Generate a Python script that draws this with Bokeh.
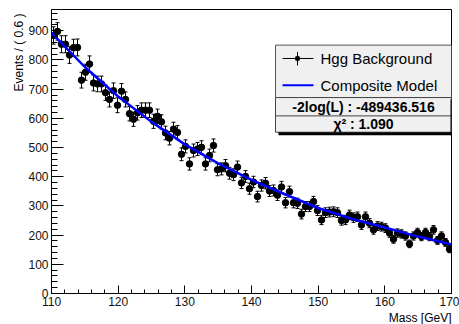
import numpy as np
from bokeh.plotting import figure
from bokeh.models import Range1d, SingleIntervalTicker, Label, BoxAnnotation, Title
from bokeh.embed import file_html
from bokeh.resources import INLINE

# ---------------- data ----------------
mass_lo, mass_hi, bin_width = 110.0, 170.0, 0.6
y_max = 973
events = [884, 898, 854, 854, 817, 842, 843, 731, 758, 786,
          721, 718, 718, 688, 665, 695, 645, 693, 665, 616,
          597, 619, 628, 628, 628, 590, 607, 588, 550, 532,
          563, 552, 477, 504, 444, 490, 495, 501, 444, 473,
          507, 424, 427, 438, 412, 407, 433, 379, 401, 359,
          382, 332, 370, 378, 351, 353, 337, 365, 311, 349,
          311, 309, 272, 298, 298, 315, 284, 252, 277, 279,
          280, 277, 250, 252, 269, 260, 263, 235, 263, 241,
          218, 231, 229, 224, 207, 186, 207, 204, 197, 170,
          197, 209, 195, 209, 195, 218, 182, 197, 175, 152]
model_mass = [110, 115, 120, 125, 130, 135, 140, 145, 150, 155, 160, 165, 170]
model_events = [893, 776, 675, 588, 511, 446, 389, 340, 293, 256, 226, 195, 168]
x_label = "Mass [GeV]"
y_label = "Events / ( 0.6 )"
legend_labels = ["Hgg Background", "Composite Model"]
stat_labels = ["-2log(L) : -489436.516", "\u03c7\u00b2 : 1.090"]

# ---------------- layout ----------------
W, H = 459, 324
FL, FR, FT, FB = 51, 451, 9, 296  # frame in pixels

def X(px):
    return mass_lo + (px - FL) * (mass_hi - mass_lo) / (FR - FL)

def Y(py):
    return (FB - py) * y_max / (FB - FT)

p = figure(width=W, height=H, x_range=Range1d(mass_lo, mass_hi), y_range=Range1d(0, y_max),
           output_backend="svg", toolbar_location=None,
           min_border_left=FL, min_border_right=W - FR, min_border_top=FT, min_border_bottom=H - FB)
p.background_fill_color = "white"
p.border_fill_color = "white"
p.outline_line_color = "black"
p.outline_line_width = 1
p.xgrid.visible = False
p.ygrid.visible = False

font = "Liberation Sans"
xa = p.xaxis[0]
xa.ticker = SingleIntervalTicker(interval=10, num_minor_ticks=5)
xa.major_tick_in = 8
xa.major_tick_out = 0
xa.minor_tick_in = 4
xa.minor_tick_out = 0
xa.axis_line_color = "black"
xa.major_tick_line_color = "black"
xa.minor_tick_line_color = "black"
xa.major_label_text_font = font
xa.major_label_text_font_size = "12px"
xa.major_label_text_color = "#111111"
xa.major_label_standoff = 3

ya = p.yaxis[0]
ya.ticker = SingleIntervalTicker(interval=100, num_minor_ticks=5)
ya.major_tick_in = 12
ya.major_tick_out = 0
ya.minor_tick_in = 6
ya.minor_tick_out = 0
ya.axis_line_color = "black"
ya.major_tick_line_color = "black"
ya.minor_tick_line_color = "black"
ya.major_label_text_font = font
ya.major_label_text_font_size = "12px"
ya.major_label_text_color = "#111111"
ya.major_label_standoff = 3

# axis titles as side-panel titles (right / top aligned like ROOT)
p.add_layout(Title(text=x_label, align="right", text_font=font, text_font_size="12px",
                   text_font_style="normal", text_color="black", standoff=0, offset=0), "below")
p.add_layout(Title(text=y_label, align="right", text_font=font, text_font_size="12px",
                   text_font_style="normal", text_color="black", standoff=0, offset=4), "left")

# ---------------- data points ----------------
x = mass_lo + bin_width / 2 + bin_width * np.arange(len(events))
y = np.array(events, dtype=float)
err = np.sqrt(y)

p.segment(x0=x, y0=y - err, x1=x, y1=y + err, line_color="black", line_width=1)
p.segment(x0=x - bin_width / 2, y0=y, x1=x + bin_width / 2, y1=y, line_color="black", line_width=1)
p.scatter(x=np.concatenate([x, x]), y=np.concatenate([y - err, y + err]), marker="dash",
          size=4, line_color="black", line_width=1)
p.scatter(x=x, y=y, marker="circle", size=6.5, fill_color="black", line_color="black")

# ---------------- model curve ----------------
p.line(x=model_mass, y=model_events, line_color="#0000ff", line_width=2.5)

# ---------------- legend ----------------
p.quad(left=X(275), right=X(451), top=Y(45), bottom=Y(98),
       fill_color="#f0f0f0", line_color="#555555", line_width=1)
p.quad(left=X(275), right=X(451), top=Y(98), bottom=Y(133),
       fill_color="#f0f0f0", line_color="#444444", line_width=1)
p.segment(x0=X(275), y0=Y(116.5), x1=X(451), y1=Y(116.5), line_color="#444444", line_width=1)
p.add_layout(BoxAnnotation(left=X(450), right=X(453.5), top=Y(100), bottom=Y(136),
                           fill_color="black", fill_alpha=1, line_color=None))
p.add_layout(BoxAnnotation(left=X(278), right=X(453.5), top=Y(133), bottom=Y(136),
                           fill_color="black", fill_alpha=1, line_color=None))

p.segment(x0=X(282), y0=Y(58.5), x1=X(313), y1=Y(58.5), line_color="black", line_width=1)
p.segment(x0=X(297), y0=Y(52), x1=X(297), y1=Y(65.5), line_color="black", line_width=1)
p.scatter(x=[X(297)], y=[Y(58.5)], marker="square", size=3.5, fill_color="black", line_color="black")
p.segment(x0=X(282), y0=Y(85.5), x1=X(313), y1=Y(85.5), line_color="#0000ff", line_width=2)

for txt, py in zip(legend_labels, [58.5, 85.5]):
    p.add_layout(Label(x=X(320), y=Y(py), text=txt, text_font=font, text_font_size="15px",
                       text_color="black", text_align="left", text_baseline="middle"))
for txt, py in zip(stat_labels, [107.5, 125]):
    p.add_layout(Label(x=X(363), y=Y(py), text=txt, text_font=font, text_font_size="14px",
                       text_font_style="bold", text_color="black",
                       text_align="center", text_baseline="middle"))

open("out.html", "w").write(file_html(p, INLINE))
